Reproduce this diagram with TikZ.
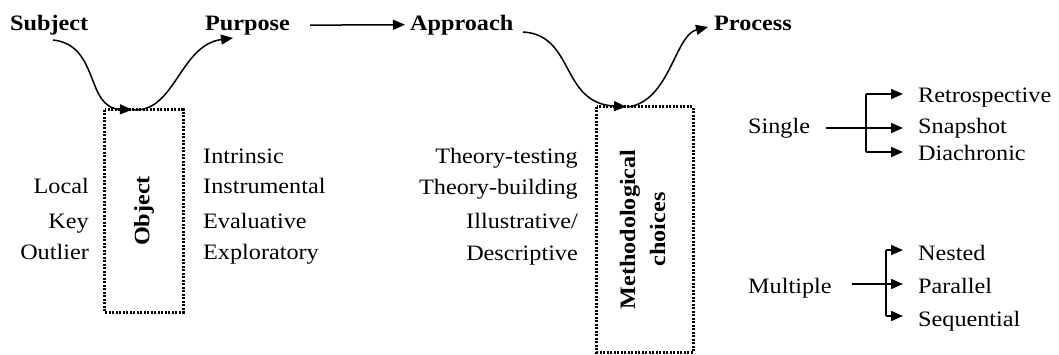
\documentclass[tikz,border=0pt]{standalone}
\usepackage{fontspec}
\usepackage{graphicx}
\setmainfont{Liberation Serif}[FakeStretch=1.1]
\usetikzlibrary{arrows.meta}
\begin{document}
\begin{tikzpicture}[x=1pt,y=-1pt,
  lbl/.style={inner sep=0pt, font=\fontsize{22}{26}\selectfont},
  hd/.style={inner sep=0pt, font=\fontsize{22}{26}\selectfont\bfseries},
  plain/.style={line width=1.5pt},
  conn/.style={line width=1.5pt, -{Triangle[length=12pt,width=10pt]}},
  boxnode/.style={inner sep=0pt, font=\fontsize{22}{26}\selectfont\bfseries},
  dotline/.style={line width=3pt, dash pattern=on 2pt off 1.5pt},
]
\useasboundingbox (0,0) rectangle (1059,354);

% headings
\node[hd, anchor=base west] (subj) at (10,30) {Subject};
\node[hd, anchor=base west] (purp) at (205,30) {Purpose};
\node[hd, anchor=base west] (appr) at (410,30) {Approach};
\node[hd, anchor=base west] (proc) at (714,30) {Process};

% boxes
\node[boxnode, minimum width=78pt, minimum height=202pt] (obj) at (144,211) {\rotatebox{90}{Object}};
\node[boxnode, minimum width=96pt, minimum height=245pt] (meth) at (645,229.5)
  {\rotatebox{90}{\begin{tabular}{@{}c@{}}Methodological\\[4pt]choices\end{tabular}}};
\draw[dotline] (obj.north west) rectangle (obj.south east);
\draw[dotline] (meth.north west) rectangle (meth.south east);

% object labels
\node[lbl, anchor=base east] (local) at (89,193) {Local};
\node[lbl, anchor=base east] (key) at (89,228) {Key};
\node[lbl, anchor=base east] (outl) at (89,259) {Outlier};
\node[lbl, anchor=base west] (intr) at (203,163) {Intrinsic};
\node[lbl, anchor=base west] (inst) at (203,193) {Instrumental};
\node[lbl, anchor=base west] (eval) at (203,228) {Evaluative};
\node[lbl, anchor=base west] (expl) at (203,259) {Exploratory};

% approach labels
\node[lbl, anchor=base east] (tt) at (578,163) {Theory-testing};
\node[lbl, anchor=base east] (tb) at (578,194) {Theory-building};
\node[lbl, anchor=base east] (il) at (578,228) {Illustrative/};
\node[lbl, anchor=base east] (de) at (578,260) {Descriptive};

% process labels
\node[lbl, anchor=base west] (single) at (748,133) {Single};
\node[lbl, anchor=base west] (retro) at (918,102) {Retrospective};
\node[lbl, anchor=base west] (snap) at (918,133) {Snapshot};
\node[lbl, anchor=base west] (diach) at (918,160) {Diachronic};
\node[lbl, anchor=base west] (multi) at (748,293) {Multiple};
\node[lbl, anchor=base west] (nest) at (918,260) {Nested};
\node[lbl, anchor=base west] (para) at (918,293) {Parallel};
\node[lbl, anchor=base west] (seq) at (918,326) {Sequential};

% connectors along the top
\draw[conn] ([xshift=20pt]purp.east) -- ([xshift=-5pt]appr.west);
\coordinate (c1) at (53,40);
\coordinate (c2) at (233,38);
\coordinate (c3) at (523,32);
\coordinate (c4) at (708,27);
\draw[conn] (c1) .. controls (100,45) and (85,108) .. ([xshift=-12pt]obj.north);
\draw[conn] ([xshift=-10pt]obj.north) .. controls (175,112) and (180,45) .. (c2);
\draw[conn] (c3) .. controls (575,35) and (560,103) .. ([xshift=-19pt]meth.north);
\draw[conn] ([xshift=-16pt]meth.north) .. controls (670,100) and (675,35) .. (c4);

% single branch
\coordinate (sIn) at (826,128);
\coordinate (sJt) at (866,94);
\coordinate (sJb) at (866,152);
\coordinate (sT1) at (903,94);
\coordinate (sT2) at (903,128);
\coordinate (sT3) at (903,152);
\draw[plain] (sJt) -- (sJb);
\draw[conn] (sIn) -- (sT2);
\draw[conn] (sJt) -- (sT1);
\draw[conn] (sJb) -- (sT3);

% multiple branch
\coordinate (mIn) at (852,284);
\coordinate (mJt) at (886,250);
\coordinate (mJb) at (886,316);
\coordinate (mT1) at (903,250);
\coordinate (mT2) at (903,284);
\coordinate (mT3) at (903,316);
\draw[plain] (mJt) -- (mJb);
\draw[conn] (mIn) -- (mT2);
\draw[conn] (mJt) -- (mT1);
\draw[conn] (mJb) -- (mT3);
\end{tikzpicture}
\end{document}
